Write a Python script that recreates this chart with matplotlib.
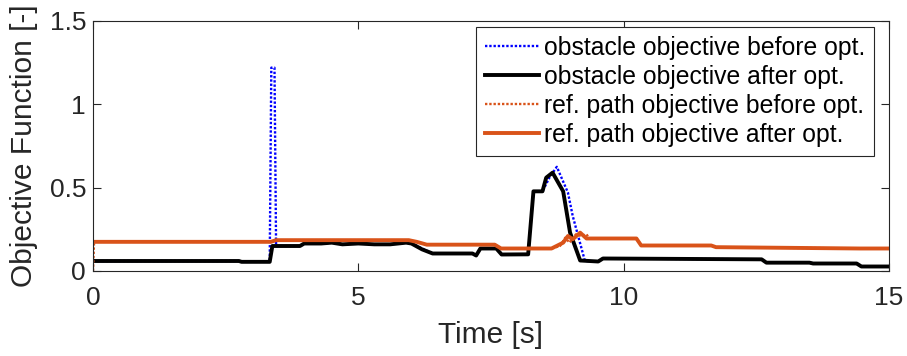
import matplotlib
matplotlib.use("Agg")
import matplotlib.pyplot as plt

plt.rcParams['font.family'] = ['Liberation Sans', 'DejaVu Sans']

# ---- data ----
t_obs_after = [0, 2.75, 2.8, 3.33, 3.38, 3.9, 3.98, 4.3, 4.5, 4.7, 5.0, 5.3, 5.6, 5.9, 6.0,
               6.2, 6.4, 7.15, 7.22, 7.3, 7.38, 7.6, 7.7, 8.2, 8.3, 8.47, 8.54, 8.66, 8.86,
               8.99, 9.18, 9.52, 9.61, 12.6, 12.69, 13.5, 13.57, 14.39, 14.48, 15]
y_obs_after = [0.06, 0.06, 0.055, 0.055, 0.15, 0.15, 0.165, 0.165, 0.17, 0.16, 0.165, 0.16,
               0.16, 0.17, 0.165, 0.13, 0.105, 0.105, 0.093, 0.135, 0.135, 0.135, 0.099, 0.1,
               0.478, 0.478, 0.56, 0.59, 0.478, 0.23, 0.063, 0.057, 0.075, 0.07, 0.05, 0.05,
               0.045, 0.045, 0.027, 0.027]

t_obs_before = [0, 2.75, 2.8, 3.33, 3.36, 3.42, 3.45, 3.9, 3.98, 4.3, 4.5, 4.7, 5.0, 5.3, 5.6,
                5.9, 6.0, 6.1, 6.4, 7.15, 7.22, 7.3, 7.38, 7.6, 7.7, 8.2, 8.3, 8.47, 8.6, 8.74,
                8.95, 9.04, 9.27, 9.52, 9.61, 12.6, 12.69, 13.5, 13.57, 14.39, 14.48, 15]
y_obs_before = [0.06, 0.06, 0.055, 0.055, 1.22, 1.22, 0.15, 0.15, 0.165, 0.165, 0.17, 0.16,
                0.165, 0.16, 0.16, 0.17, 0.165, 0.15, 0.105, 0.105, 0.093, 0.135, 0.135, 0.135,
                0.099, 0.1, 0.478, 0.478, 0.56, 0.625, 0.47, 0.33, 0.06, 0.057, 0.075, 0.07,
                0.05, 0.05, 0.045, 0.045, 0.027, 0.027]

t_ref_after = [0, 3.35, 3.45, 5.95, 6.1, 6.29, 7.57, 7.69, 8.64, 8.86, 8.95, 9.04, 9.18, 9.3,
               10.24, 10.33, 11.65, 11.74, 14.45, 15]
y_ref_after = [0.175, 0.175, 0.185, 0.185, 0.175, 0.158, 0.158, 0.135, 0.135, 0.17, 0.21,
               0.19, 0.23, 0.195, 0.195, 0.153, 0.153, 0.143, 0.135, 0.135]

t_ref_before = [0, 0.02, 3.35, 3.45, 5.95, 6.1, 6.29, 7.57, 7.69, 8.64, 8.8, 8.9, 8.98, 9.1,
                9.2, 9.3, 9.35, 10.24, 10.33, 11.65, 11.74, 14.45, 15]
y_ref_before = [0.0, 0.175, 0.175, 0.185, 0.185, 0.175, 0.158, 0.158, 0.135, 0.135, 0.15,
                0.2, 0.17, 0.22, 0.21, 0.22, 0.195, 0.195, 0.153, 0.153, 0.143, 0.135, 0.135]

labels = ["obstacle objective before opt.", "obstacle objective after opt.",
          "ref. path objective before opt.", "ref. path objective after opt."]
x_ticks = [0, 5, 10, 15]
y_ticks = [0, 0.5, 1, 1.5]

blue = (0, 0, 1)
orange = (0.85, 0.325, 0.098)
axc = (0.15, 0.15, 0.15)

fig = plt.figure(figsize=(9.07, 3.56), dpi=100)
ax = fig.add_axes([93/907, 1 - 271/356, (889 - 93)/907, (271 - 21)/356])

ax.plot(t_obs_before, y_obs_before, color=blue, lw=1.7, ls=(0, (1, 0.8)), label=labels[0])
ax.plot(t_obs_after, y_obs_after, color='black', lw=2.8, label=labels[1])
ax.plot(t_ref_before, y_ref_before, color=orange, lw=1.7, ls=(0, (1, 0.8)), label=labels[2])
ax.plot(t_ref_after, y_ref_after, color=orange, lw=2.8, label=labels[3])

ax.set_xlim(0, 15)
ax.set_ylim(0, 1.5)
ax.set_xticks(x_ticks)
ax.set_xticklabels([str(v) for v in x_ticks])
ax.set_yticks(y_ticks)
ax.set_yticklabels(['0', '0.5', '1', '1.5'])
ax.tick_params(direction='in', length=6, width=0.8, colors=axc, labelsize=19,
               top=True, right=True)
ax.tick_params(axis='x', pad=11)
ax.tick_params(axis='y', pad=5)
for sp in ax.spines.values():
    sp.set_color(axc)
    sp.set_linewidth(0.8)

ax.set_xlabel("Time [s]", fontsize=21.5, color=axc, labelpad=8)
ax.set_ylabel("Objective Function [-]", fontsize=21.5, color=axc, labelpad=8)

leg = ax.legend(loc='upper right', bbox_to_anchor=((874 - 93) / 796, (271 - 27) / 250),
                fontsize=17.8, frameon=True, fancybox=False,
                edgecolor=axc, framealpha=1, handlelength=2.2, handletextpad=0.18,
                borderpad=0.36, labelspacing=0.2, borderaxespad=0)
leg.get_frame().set_linewidth(0.8)

fig.savefig("out.png", dpi=100)
